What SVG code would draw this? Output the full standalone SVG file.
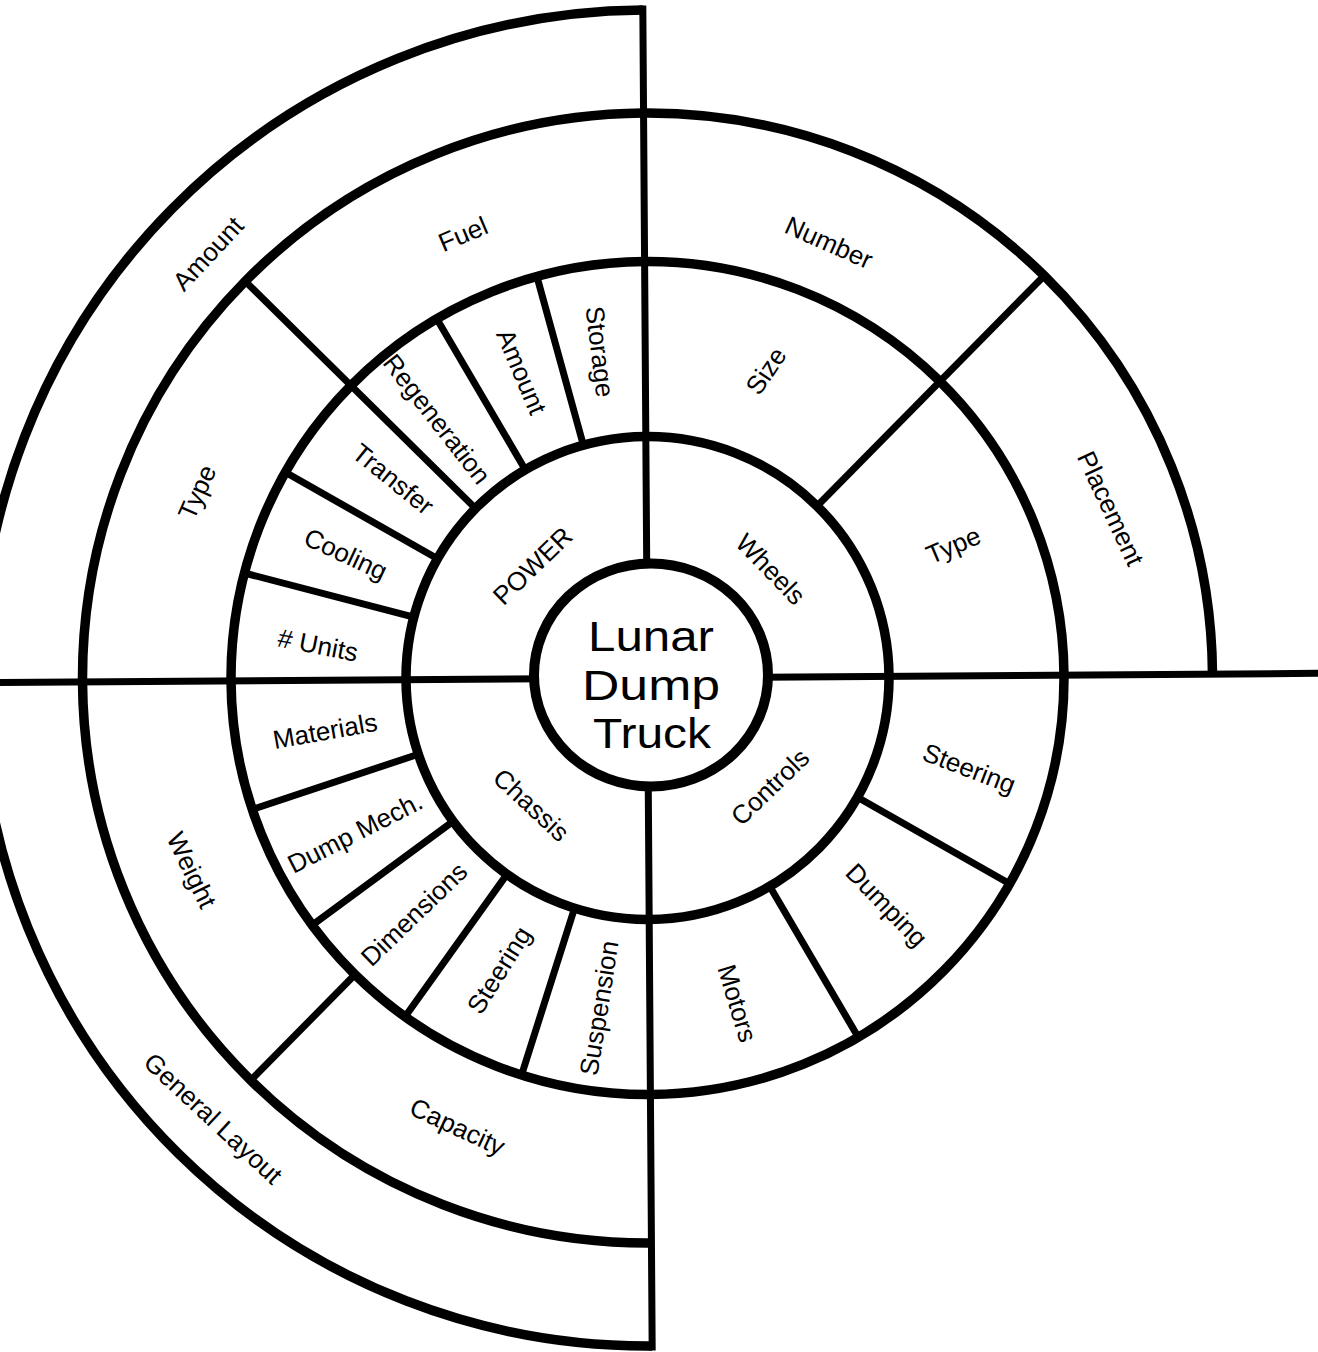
<svg xmlns="http://www.w3.org/2000/svg" width="1318" height="1352" viewBox="0 0 1318 1352">
<style>
.ring{fill:none;stroke:#000;stroke-width:9.5}
.ln{fill:none;stroke:#000;stroke-width:7}
.lbl{font-family:"Liberation Sans",Arial,sans-serif;font-size:26px;text-anchor:middle;fill:#000}
.title{font-family:"Liberation Sans",Arial,sans-serif;font-size:43px;text-anchor:middle;fill:#000}
</style>
<rect width="1318" height="1352" fill="#fff"/>
<g id="connectors" transform="translate(647.5,678) rotate(-0.4)">
  <circle class="ring" r="241.5"/>
  <circle class="ring" r="416.5"/>
  <path class="ring" d="M 565 0 A 565 565 0 1 0 0 565"/>
  <path class="ring" d="M 0 -668 A 668 668 0 0 0 -668 0 A 668 668 0 0 0 0 668"/>
  <path class="ln" d="M 0 -100 L 0 -672.5 M 0 100 L 0 672.5 M -100 0 L -665 0 M 100 0 L 685 0"/>
  <path class="ln" d="M -62.5 -233.3 L -107.8 -402.3 M -120.75 -209.1 L -208.25 -360.7 M -170.8 -170.8 L -399.5 -399.5 M -209.1 -120.75 L -360.7 -208.25 M -233.3 -62.5 L -402.3 -107.8"/>
  <path class="ln" d="M 170.8 -170.8 L 399.5 -399.5"/>
  <path class="ln" d="M 209.1 120.75 L 360.7 208.25 M 120.75 209.1 L 208.25 360.7"/>
  <path class="ln" d="M -229.7 74.6 L -396.1 128.7 M -195.4 142 L -337 244.8 M -142 195.4 L -244.8 337 M -74.6 229.7 L -128.7 396.1 M -294.5 294.5 L -399.5 399.5"/>
</g>
<g id="hub">
  <ellipse cx="651" cy="675" rx="117" ry="111.5" fill="#fff" stroke="#000" stroke-width="10"/>
  <text class="title" x="651" y="651" textLength="126" lengthAdjust="spacingAndGlyphs">Lunar</text>
  <text class="title" x="651" y="699.5" textLength="138" lengthAdjust="spacingAndGlyphs">Dump</text>
  <text class="title" x="652" y="748" textLength="118" lengthAdjust="spacingAndGlyphs">Truck</text>
</g>
<g id="power"><text class="lbl" transform="translate(532.5,565.8) rotate(-44)" dy=".35em">POWER</text></g>
<g id="wheels"><text class="lbl" transform="translate(770.7,569) rotate(46)" dy=".35em">Wheels</text></g>
<g id="controls"><text class="lbl" transform="translate(770,786.7) rotate(-44)" dy=".35em">Controls</text></g>
<g id="chassis"><text class="lbl" transform="translate(531.4,804.8) rotate(43)" dy=".35em">Chassis</text></g>
<g id="power-storage"><text class="lbl" transform="translate(600,351.7) rotate(83)" dy=".35em">Storage</text></g>
<g id="power-amount"><text class="lbl" transform="translate(521.7,371.7) rotate(67)" dy=".35em">Amount</text></g>
<g id="power-regeneration"><text class="lbl" transform="translate(437,419) rotate(52)" dy=".35em">Regeneration</text></g>
<g id="power-transfer"><text class="lbl" transform="translate(393.3,479) rotate(39)" dy=".35em">Transfer</text></g>
<g id="power-cooling"><text class="lbl" transform="translate(345.8,554) rotate(25)" dy=".35em">Cooling</text></g>
<g id="power-units"><text class="lbl" transform="translate(318,645) rotate(11)" dy=".35em"># Units</text></g>
<g id="power-fuel"><text class="lbl" transform="translate(463,234) rotate(-23)" dy=".35em">Fuel</text></g>
<g id="power-type"><text class="lbl" transform="translate(197,492) rotate(-66)" dy=".35em">Type</text></g>
<g id="power-fuel-amount"><text class="lbl" transform="translate(208,253.5) rotate(-47)" dy=".35em">Amount</text></g>
<g id="wheels-size"><text class="lbl" transform="translate(765.8,370.8) rotate(-56)" dy=".35em">Size</text></g>
<g id="wheels-type"><text class="lbl" transform="translate(953.3,545) rotate(-23)" dy=".35em">Type</text></g>
<g id="wheels-number"><text class="lbl" transform="translate(829,242.5) rotate(24)" dy=".35em">Number</text></g>
<g id="wheels-placement"><text class="lbl" transform="translate(1110.8,508.3) rotate(65)" dy=".35em">Placement</text></g>
<g id="controls-steering"><text class="lbl" transform="translate(969.2,768.3) rotate(21)" dy=".35em">Steering</text></g>
<g id="controls-dumping"><text class="lbl" transform="translate(886.7,905) rotate(46)" dy=".35em">Dumping</text></g>
<g id="controls-motors"><text class="lbl" transform="translate(737.5,1003.3) rotate(73)" dy=".35em">Motors</text></g>
<g id="chassis-materials"><text class="lbl" transform="translate(325,730.8) rotate(-10)" dy=".35em">Materials</text></g>
<g id="chassis-dump-mech"><text class="lbl" transform="translate(355,832.5) rotate(-27)" dy=".35em">Dump Mech.</text></g>
<g id="chassis-dimensions"><text class="lbl" transform="translate(414,914) rotate(-44)" dy=".35em">Dimensions</text></g>
<g id="chassis-steering"><text class="lbl" transform="translate(499,970) rotate(-58)" dy=".35em">Steering</text></g>
<g id="chassis-suspension"><text class="lbl" transform="translate(599,1008) rotate(-81)" dy=".35em">Suspension</text></g>
<g id="chassis-weight"><text class="lbl" transform="translate(191.7,870) rotate(64)" dy=".35em">Weight</text></g>
<g id="chassis-capacity"><text class="lbl" transform="translate(457.5,1126.7) rotate(25)" dy=".35em">Capacity</text></g>
<g id="chassis-general-layout"><text class="lbl" transform="translate(213.3,1118.3) rotate(43)" dy=".35em">General Layout</text></g>
</svg>
